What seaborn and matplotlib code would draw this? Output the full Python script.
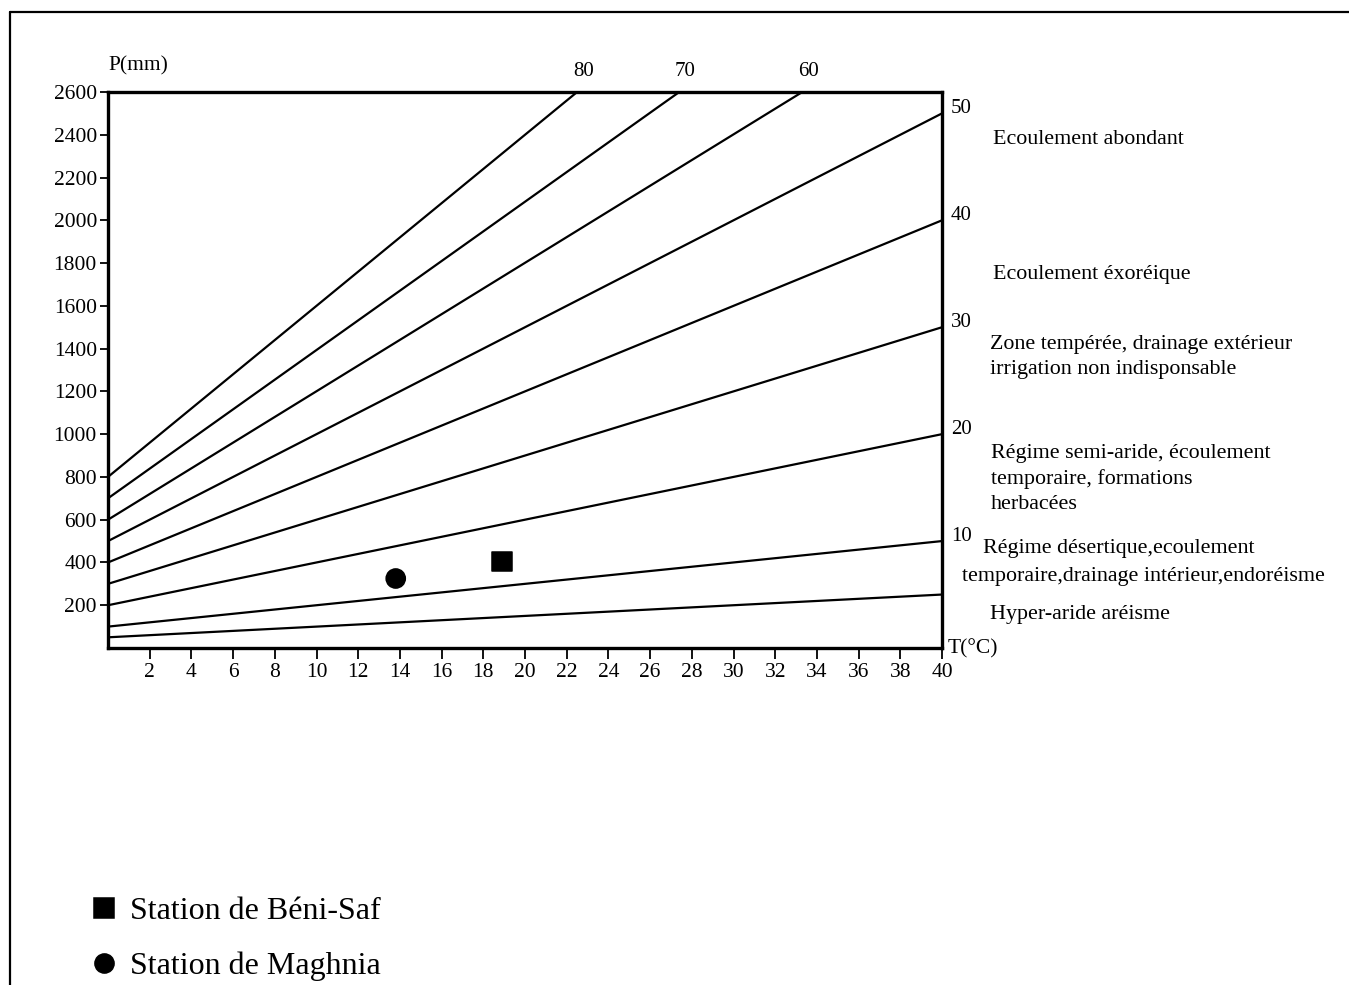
import pandas as pd
import numpy as np
import matplotlib.pyplot as plt
from matplotlib.lines import Line2D
import seaborn as sns

# Isolines of the De Martonne index: P at T=0 and where each line leaves the frame
indices = [5, 10, 20, 30, 40, 50, 60, 70, 80]
iso_labels = ['', '10', '20', '30', '40', '50', '60', '70', '80']
p_start = [50, 100, 200, 300, 400, 500, 600, 700, 800]
t_end = [40, 40, 40, 40, 40, 40, 33.3, 27.4, 22.5]
p_end = [250, 500, 1000, 1500, 2000, 2500, 2600, 2600, 2600]

# Stations
stations = ['Station de Béni-Saf', 'Station de Maghnia']
station_markers = ['s', 'o']
station_T = [18.9, 13.8]
station_P = [405, 325]

# Axis ticks
x_ticks = list(range(2, 41, 2))
y_ticks = list(range(200, 2601, 200))

# Zone descriptions on the right
zones = ['Ecoulement abondant',
         'Ecoulement éxoréique',
         'Zone tempérée, drainage extérieur\nirrigation non indisponsable',
         'Régime semi-aride, écoulement\ntemporaire, formations\nherbacées',
         'Régime désertique,ecoulement',
         'temporaire,drainage intérieur,endoréisme',
         'Hyper-aride aréisme']
zone_pos = [(993, 140), (993, 274), (990, 357), (991, 479),
            (983, 549), (962, 576), (990, 615)]

sns.set_style('white')
plt.rcParams['font.family'] = ['Liberation Serif', 'DejaVu Serif']
plt.rcParams['text.color'] = 'black'
plt.rcParams['xtick.color'] = 'black'
plt.rcParams['ytick.color'] = 'black'

W, H = 1349, 985
fx = lambda x: x / W
fy = lambda y: 1 - y / H

fig = plt.figure(figsize=(W / 100, H / 100), dpi=100)
ax = fig.add_axes([fx(108), fy(648), (942 - 108) / W, (648 - 92) / H])

rows = []
for i, p0, t1, p1 in zip(indices, p_start, t_end, p_end):
    rows.append({'I': i, 'T': 0, 'P': p0})
    rows.append({'I': i, 'T': t1, 'P': p1})
lines_df = pd.DataFrame(rows)

sns.lineplot(data=lines_df, x='T', y='P', units='I', estimator=None,
             color='black', lw=1.6, ax=ax, legend=False)

st_df = pd.DataFrame({'station': stations, 'T': station_T, 'P': station_P})
sns.scatterplot(data=st_df, x='T', y='P', style='station',
                markers=dict(zip(stations, station_markers)),
                color='black', s=190, edgecolor='black', ax=ax, zorder=5)

ax.set_xlim(0, 40)
ax.set_ylim(0, 2600)
ax.set_xticks(x_ticks)
ax.set_yticks(y_ticks)
ax.set_xlabel('')
ax.set_ylabel('')
ax.tick_params(axis='x', direction='out', length=8, width=1.3, pad=3,
               labelsize=15.5, bottom=True, colors='black')
ax.tick_params(axis='y', direction='out', length=6, width=1.3, pad=2,
               labelsize=15.5, left=True, colors='black')
for sp in ax.spines.values():
    sp.set_visible(True)
    sp.set_linewidth(2.4)
    sp.set_color('black')

# index labels
for t1, p1, lab in zip(t_end, p_end, iso_labels):
    if not lab:
        continue
    if p1 >= 2600:
        ax.annotate(lab, xy=(t1, p1), xytext=(6, 20), textcoords='offset pixels',
                    ha='center', va='center', fontsize=15, annotation_clip=False)
    else:
        ax.annotate(lab, xy=(t1, p1), xytext=(9, 5), textcoords='offset pixels',
                    ha='left', va='center', fontsize=15, annotation_clip=False)

fig.text(fx(138), fy(66), 'P(mm)', ha='center', va='center', fontsize=15.5)
fig.text(fx(948), fy(649), 'T(°C)', ha='left', va='center', fontsize=15.5)

for txt, (x, y) in zip(zones, zone_pos):
    fig.text(fx(x), fy(y), txt, ha='left', va='center', fontsize=15.8,
             linespacing=1.45)

sns.move_legend(ax, 'upper left', bbox_to_anchor=(fx(88), fy(897)),
                bbox_transform=fig.transFigure, frameon=False, title=None,
                fontsize=23, handletextpad=0.3, handlelength=1.0,
                labelspacing=0.8, borderaxespad=0, borderpad=0)
for t in ax.get_legend().get_texts():
    t.set_color('black')

# page frame
fig.add_artist(Line2D([fx(10), 1], [fy(12), fy(12)], transform=fig.transFigure,
                      color='black', lw=1.6))
fig.add_artist(Line2D([fx(10), fx(10)], [fy(12), 0], transform=fig.transFigure,
                      color='black', lw=1.6))

fig.savefig('out.png', dpi=100)
